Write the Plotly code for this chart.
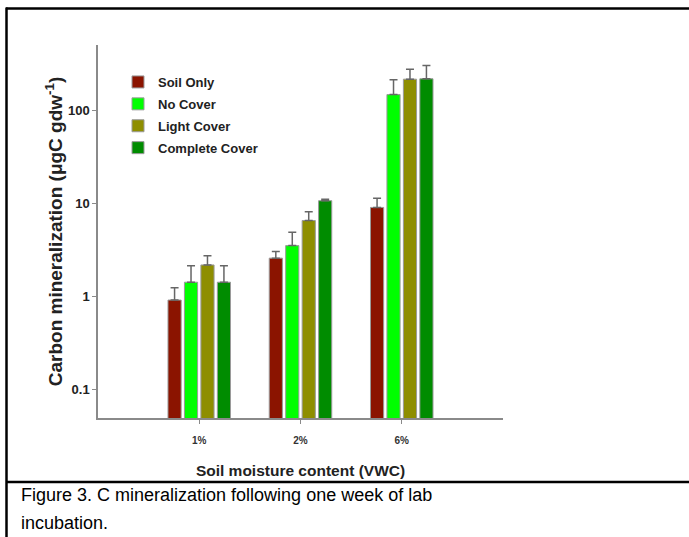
import plotly.graph_objects as go

# ---- data ----
categories = ["1%", "2%", "6%"]
series_names = ["Soil Only", "No Cover", "Light Cover", "Complete Cover"]
soil_only = [0.92, 2.59, 9.06]
no_cover = [1.43, 3.53, 147]
light_cover = [2.19, 6.56, 215]
complete_cover = [1.43, 10.7, 217]
soil_only_err = [1.25, 3.05, 11.4]
no_cover_err = [2.14, 4.92, 212]
light_cover_err = [2.74, 8.14, 274]
complete_cover_err = [2.14, 11.1, 302]
y_tick_vals = [0.1, 1, 10, 100]
y_tick_text = ["0.1", "1", "10", "100"]

values = [soil_only, no_cover, light_cover, complete_cover]
tops = [soil_only_err, no_cover_err, light_cover_err, complete_cover_err]
colors = ["#8B1400", "#00FF00", "#8E8E00", "#008C00"]

W, H = 689, 537
L, R, T, B = 98, 503, 45, 418
FONT = "Liberation Sans, Arial, sans-serif"


def px_x(px):
    return (px - L) / (R - L)


def px_y(py):
    return (B - py) / (B - T)


fig = go.Figure()
for name, vals, top, col in zip(series_names, values, tops, colors):
    fig.add_trace(go.Bar(
        name=name,
        x=categories,
        y=vals,
        marker=dict(color=col, line=dict(color="#9a9a9a", width=1)),
        error_y=dict(type="data", symmetric=False,
                     array=[t - v for t, v in zip(top, vals)],
                     arrayminus=[0] * len(vals),
                     color="#666666", thickness=1.5, width=4),
        legendgroup=name,
    ))

fig.update_layout(
    width=W, height=H,
    margin=dict(l=L, r=W - R, t=T, b=H - B, pad=0),
    paper_bgcolor="white", plot_bgcolor="white",
    barmode="group", bargap=0.35, bargroupgap=0.2,
    font=dict(family=FONT, color="#222222"),
    showlegend=True,
    legend=dict(x=px_x(118), y=px_y(67), xanchor="left", yanchor="top",
                bgcolor="rgba(0,0,0,0)", borderwidth=0,
                font=dict(size=13, family=FONT, color="#222222", weight="bold"),
                traceorder="grouped", tracegroupgap=2, itemwidth=30),
    xaxis=dict(type="category", range=[-1, 3], showline=True,
               linecolor="#8a8a8a", linewidth=1.5, ticks="outside",
               ticklen=4, tickcolor="#8a8a8a", showgrid=False,
               ticklabelstandoff=8,
               tickfont=dict(size=10, family=FONT, color="#333333", weight="bold"),
               title=dict(text="Soil moisture content (VWC)", standoff=20,
                          font=dict(size=15.5, family=FONT, color="#222222", weight="bold"))),
    yaxis=dict(type="log", range=[-1.301, 2.699], showline=True,
               linecolor="#8a8a8a", linewidth=1.5, ticks="outside",
               ticklen=4, tickcolor="#8a8a8a", showgrid=False, zeroline=False,
               tickvals=y_tick_vals, ticktext=y_tick_text,
               tickfont=dict(size=13, family=FONT, color="#222222", weight="bold"),
               title=dict(text="Carbon mineralization (μgC gdw<sup>-1</sup>)", standoff=0,
                          font=dict(size=19, family=FONT, color="#222222", weight="bold"))),
)

# frame lines
border = dict(color="black", width=2.5)
fig.add_shape(type="line", xref="paper", yref="paper",
              x0=px_x(6), x1=px_x(700), y0=px_y(8.5), y1=px_y(8.5), line=border)
fig.add_shape(type="line", xref="paper", yref="paper",
              x0=px_x(6.5), x1=px_x(6.5), y0=px_y(7.5), y1=px_y(545), line=border)
fig.add_shape(type="line", xref="paper", yref="paper",
              x0=px_x(6), x1=px_x(700), y0=px_y(482), y1=px_y(482), line=border)

# caption
cap_font = dict(size=18, family=FONT, color="black")
fig.add_annotation(xref="paper", yref="paper", x=px_x(19), y=px_y(483),
                   xanchor="left", yanchor="top", showarrow=False,
                   text="Figure 3. C mineralization following one week of lab",
                   font=cap_font)
fig.add_annotation(xref="paper", yref="paper", x=px_x(19), y=px_y(511),
                   xanchor="left", yanchor="top", showarrow=False,
                   text="incubation.", font=cap_font)

fig.write_html("out.html", config={"displayModeBar": False},
               post_script="document.body.style.margin='0';document.body.style.overflow='hidden';")
